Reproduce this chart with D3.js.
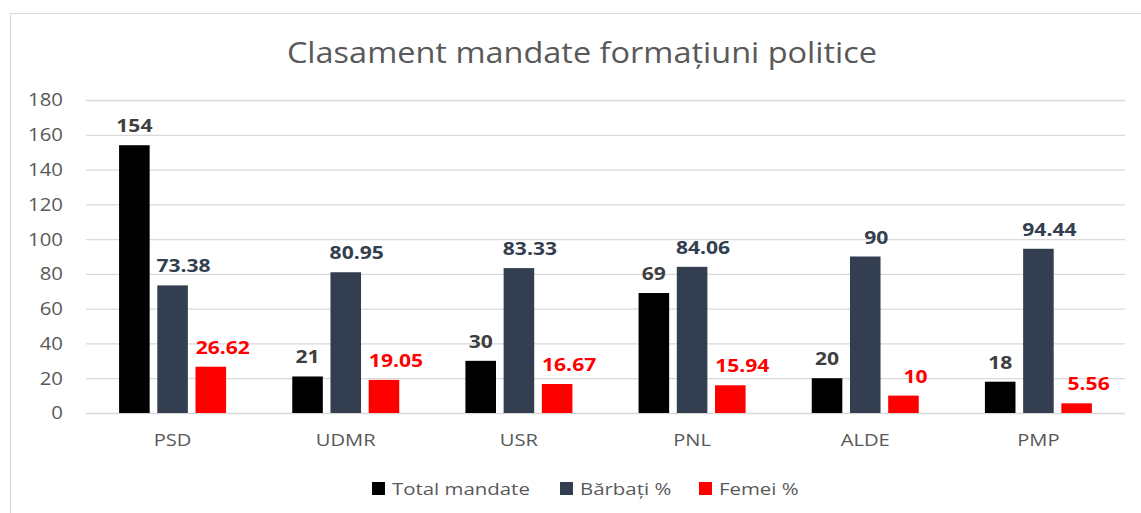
<!DOCTYPE html>
<html><head><meta charset="utf-8">
<script src="https://cdn.jsdelivr.net/npm/d3@7"></script>
<style>body{margin:0;background:#fff;font-family:"Open Sans",sans-serif;}</style>
</head><body><svg id="c" width="1141" height="513"></svg>
<script>
const categories = ["PSD","UDMR","USR","PNL","ALDE","PMP"];
const seriesNames = ["Total mandate","Bărbați %","Femei %"];
const totalMandate = [154,21,30,69,20,18];
const barbati = [73.38,80.95,83.33,84.06,90,94.44];
const femei = [26.62,19.05,16.67,15.94,10,5.56];
const yTicks = [0,20,40,60,80,100,120,140,160,180];
const colors = ["#000000","#333F50","#FF0000"];
const labelColors = ["#404040","#333F50","#FF0000"];
const series = [totalMandate, barbati, femei];
const labelShift = [0, 11, 12];

function stretch(sel, k){
  sel.each(function(){
    const w = this.getComputedTextLength();
    d3.select(this).attr("textLength", w*k).attr("lengthAdjust","spacingAndGlyphs");
  });
}

const svg = d3.select("#c");
svg.append("rect").attr("x",10.5).attr("y",13.5).attr("width",1200).attr("height",600)
  .attr("fill","#fff").attr("stroke","#d9d9d9");

const m = {l:86, r:1125, t:100, b:413};
const x = d3.scaleBand().domain(categories).range([m.l,m.r]);
const y = d3.scaleLinear().domain([0,180]).range([m.b,m.t]);
const inner = d3.scaleBand().domain(d3.range(3)).range([0,107]).paddingInner(0.2);
const groupOff = (x.bandwidth()-107)/2;

svg.append("text").attr("x",582).attr("y",63).attr("text-anchor","middle")
  .attr("font-size",29).attr("fill","#595959").text("Clasament mandate formațiuni politice")
  .call(stretch,1.12);

const g = svg.append("g");
g.selectAll("line.grid").data(yTicks).join("line")
  .attr("x1",m.l).attr("x2",m.r).attr("y1",d=>y(d)+0.5).attr("y2",d=>y(d)+0.5)
  .attr("stroke","#d9d9d9").attr("stroke-width",1.3);
g.selectAll("text.yt").data(yTicks).join("text")
  .attr("x",63).attr("y",d=>y(d)).attr("dy","0.35em").attr("text-anchor","end")
  .attr("font-size",18.5).attr("fill","#595959").text(d=>d)
  .call(stretch,1.1);
g.selectAll("text.xt").data(categories).join("text")
  .attr("x",d=>x(d)+x.bandwidth()/2).attr("y",446).attr("text-anchor","middle")
  .attr("font-size",16.5).attr("fill","#595959").text(d=>d)
  .call(stretch,1.22);

series.forEach((vals,si)=>{
  const gs = svg.append("g");
  gs.selectAll("rect").data(vals).join("rect")
    .attr("x",(d,i)=>x(categories[i])+groupOff+inner(si))
    .attr("width",inner.bandwidth())
    .attr("y",d=>y(d)).attr("height",d=>y(0)-y(d))
    .attr("fill",colors[si]);
  gs.selectAll("text").data(vals).join("text")
    .attr("x",(d,i)=>x(categories[i])+groupOff+inner(si)+inner.bandwidth()/2+labelShift[si])
    .attr("y",d=>y(d)-13).attr("text-anchor","middle")
    .attr("font-size",17).attr("font-weight","bold").attr("fill",labelColors[si])
    .text(d=>d)
    .call(stretch,1.24);
});

const legX = [372,560,699];
const leg = svg.append("g");
seriesNames.forEach((n,i)=>{
  leg.append("rect").attr("x",legX[i]).attr("y",482).attr("width",13).attr("height",13).attr("fill",colors[i]);
  leg.append("text").attr("x",legX[i]+20).attr("y",495).attr("font-size",17).attr("fill","#595959").text(n)
    .call(stretch,1.2);
});
</script></body></html>
